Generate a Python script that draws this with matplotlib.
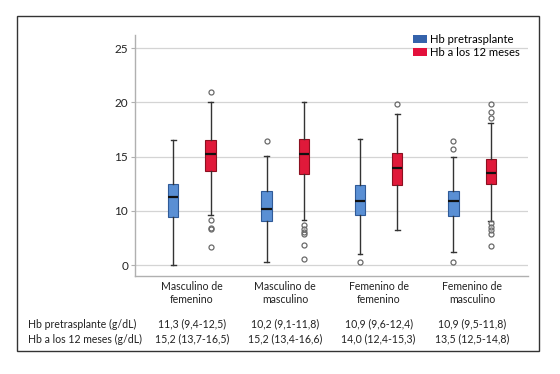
import matplotlib
matplotlib.use("Agg")
import matplotlib.pyplot as plt
import matplotlib.transforms as mtransforms
from matplotlib.patches import Patch, Rectangle

plt.rcParams["font.family"] = ["Lato", "DejaVu Sans"]

# categories and table text
categories = ["Masculino de\nfemenino", "Masculino de\nmasculino",
              "Femenino de\nfemenino", "Femenino de\nmasculino"]
series = ["Hb pretrasplante", "Hb a los 12 meses"]
row_labels = ["Hb pretrasplante (g/dL)", "Hb a los 12 meses (g/dL)"]
row_pre = ["11,3 (9,4-12,5)", "10,2 (9,1-11,8)", "10,9 (9,6-12,4)", "10,9 (9,5-11,8)"]
row_post = ["15,2 (13,7-16,5)", "15,2 (13,4-16,6)", "14,0 (12,4-15,3)", "13,5 (12,5-14,8)"]

# box statistics
pre_med = [11.3, 10.2, 10.9, 10.9]
pre_q1 = [9.4, 9.1, 9.6, 9.5]
pre_q3 = [12.5, 11.8, 12.4, 11.8]
pre_lo = [5.0, 5.25, 6.0, 6.2]
pre_hi = [16.5, 15.1, 16.6, 15.0]
pre_fliers = [[], [16.4], [5.25], [16.4, 15.7, 5.25]]

post_med = [15.2, 15.2, 14.0, 13.5]
post_q1 = [13.7, 13.4, 12.4, 12.5]
post_q3 = [16.5, 16.6, 15.3, 14.8]
post_lo = [9.6, 9.15, 8.2, 9.05]
post_hi = [20.0, 20.0, 18.9, 18.1]
post_fliers = [[21.0, 9.15, 8.4, 8.3, 6.7],
               [8.66, 8.3, 8.07, 7.85, 6.87, 5.55],
               [19.9],
               [19.9, 19.1, 18.6, 8.85, 8.5, 8.2, 7.85, 6.75]]

y_ticks = [5, 10, 15, 20, 25]
y_tick_labels = ["0", "10", "15", "20", "25"]

blue = "#5a8fd4"
red = "#e0193a"
txt = "#222222"
fs = 7.6


def make_stats(med, q1, q3, lo, hi, fl):
    return [dict(med=m, q1=a, q3=b, whislo=l, whishi=h, fliers=f)
            for m, a, b, l, h, f in zip(med, q1, q3, lo, hi, fl)]


fig = plt.figure(figsize=(5.6, 3.74), dpi=100)
ax = fig.add_axes([0.241, 0.262, 0.702, 0.644])

pos = list(range(len(categories)))
flier = dict(marker="o", markerfacecolor="none", markeredgecolor="#6a6a6a",
             markersize=3.6, markeredgewidth=0.9, linestyle="none")
for stats, off, col, edge in [
        (make_stats(pre_med, pre_q1, pre_q3, pre_lo, pre_hi, pre_fliers), -0.2, blue, "#2f5a98"),
        (make_stats(post_med, post_q1, post_q3, post_lo, post_hi, post_fliers), 0.2, red, "#8c1020")]:
    ax.bxp(stats, positions=[p + off for p in pos], widths=0.11, patch_artist=True,
           showfliers=True, capwidths=0.05,
           boxprops=dict(facecolor=col, edgecolor=edge, linewidth=0.8),
           medianprops=dict(color="#111111", linewidth=1.6),
           whiskerprops=dict(color="#333333", linewidth=1.0),
           capprops=dict(color="#333333", linewidth=1.0),
           flierprops=flier, zorder=3)

ax.set_xlim(-0.61, 3.6)
ax.set_ylim(4.0, 26.2)
ax.set_yticks(y_ticks)
ax.set_yticklabels(y_tick_labels, fontsize=8.5, color=txt)
ax.set_xticks([])
ax.yaxis.grid(True, color="#d4d4d4", linewidth=0.9, zorder=0)
ax.set_axisbelow(True)
for s in ["top", "right"]:
    ax.spines[s].set_visible(False)
for s in ["left", "bottom"]:
    ax.spines[s].set_color("#b0b0b0")
    ax.spines[s].set_linewidth(1.0)
ax.tick_params(axis="y", length=3, color="#b0b0b0", pad=2)

fig.legend(handles=[Patch(facecolor="#3462ab", label=series[0]),
                    Patch(facecolor="#e3103c", label=series[1])],
           loc="upper left", bbox_to_anchor=(413 / 560, 1 - 34 / 374), frameon=False,
           fontsize=8.1, handlelength=1.25, handleheight=0.7, borderpad=0,
           handletextpad=0.25, labelspacing=0.2, borderaxespad=0)

# category labels and table under the plot
trans = mtransforms.blended_transform_factory(ax.transData, fig.transFigure)
for i, cat in enumerate(categories):
    ax.text(i, 1 - 281 / 374, cat, ha="center", va="top", fontsize=fs,
            color=txt, linespacing=1.25, transform=trans, clip_on=False)
    ax.text(i, 1 - 324 / 374, row_pre[i], ha="center", va="center", fontsize=fs,
            color=txt, transform=trans, clip_on=False)
    ax.text(i, 1 - 339 / 374, row_post[i], ha="center", va="center", fontsize=fs,
            color=txt, transform=trans, clip_on=False)

fig.text(28 / 560, 1 - 324 / 374, row_labels[0], ha="left", va="center",
         fontsize=fs, color=txt)
fig.text(28 / 560, 1 - 339 / 374, row_labels[1], ha="left", va="center",
         fontsize=fs, color=txt)

fig.add_artist(Rectangle((17 / 560, 1 - 351 / 374), 522 / 560, 335 / 374,
                         transform=fig.transFigure, fill=False,
                         edgecolor="#333333", linewidth=1.0))

fig.savefig("out.png", dpi=100)
